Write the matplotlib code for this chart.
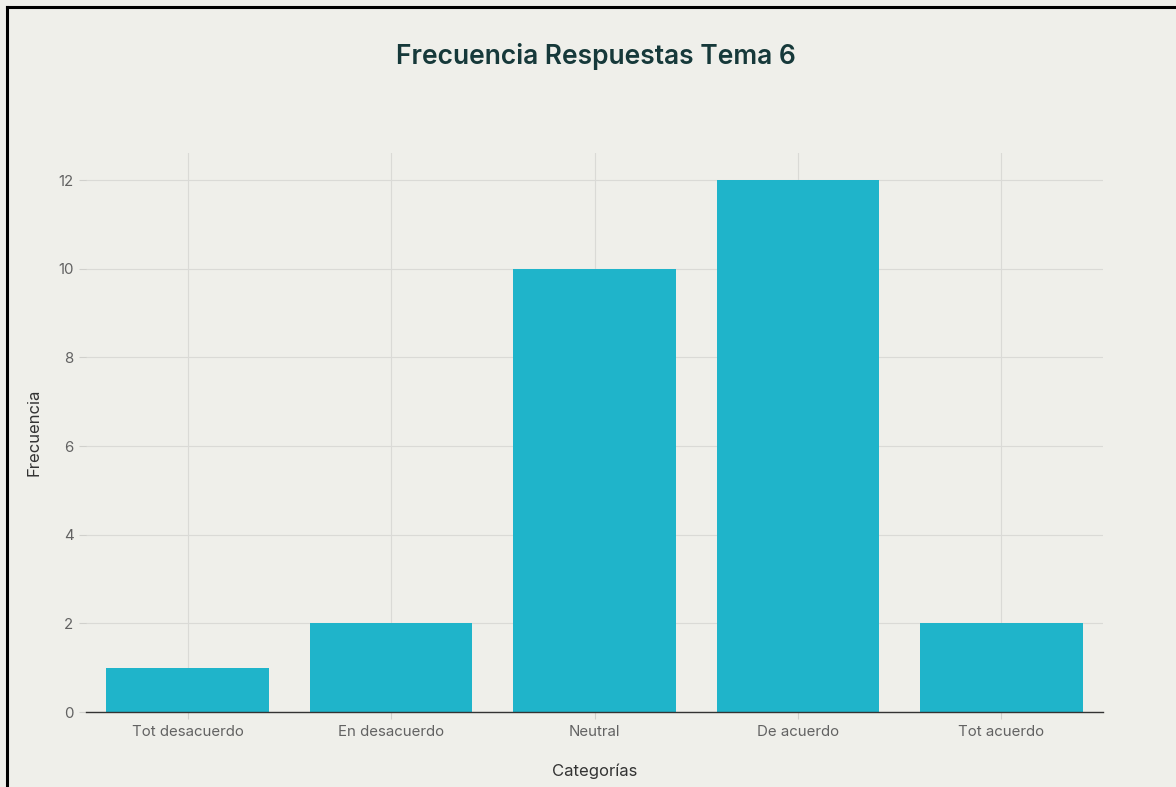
import matplotlib
matplotlib.use("Agg")
import matplotlib.pyplot as plt
from matplotlib.lines import Line2D

categories = ["Tot desacuerdo", "En desacuerdo", "Neutral", "De acuerdo", "Tot acuerdo"]
values = [1, 2, 10, 12, 2]
yticks = [0, 2, 4, 6, 8, 10, 12]

bg = "#EFEFEA"
bar_color = "#1FB4CA"

plt.rcParams['font.family'] = ['Inter', 'DejaVu Sans']

fig = plt.figure(figsize=(11.76, 7.87), dpi=100, facecolor=bg)
ax = fig.add_axes([86/1176, 1-712/787, (1103-86)/1176, (712-153)/787])
ax.set_facecolor(bg)

x = list(range(len(categories)))
ax.bar(x, values, width=0.8, color=bar_color, zorder=3)
ax.set_xlim(-0.5, len(categories) - 0.5)
ax.set_ylim(0, 12.61)
ax.set_yticks(yticks)
ax.set_xticks(x)
ax.set_xticklabels(categories)

ax.grid(True, color="#DADAD6", linewidth=0.8, zorder=0)
for s in ["top", "right", "left"]:
    ax.spines[s].set_visible(False)
ax.spines["bottom"].set_color("#333333")
ax.spines["bottom"].set_linewidth(1.0)
ax.spines["bottom"].set_zorder(4)
ax.tick_params(axis="both", colors="#D0D0CC", length=5, width=0.8, labelsize=10.8,
               labelcolor="#626262", pad=4)

ax.set_ylabel("Frecuencia", fontsize=12, color="#333333", labelpad=12)
ax.set_xlabel("Categorías", fontsize=12, color="#333333", labelpad=18)

fig.text(596/1176, 1-57/787, "Frecuencia Respuestas Tema 6", ha="center", va="center",
         fontsize=19, fontweight="semibold", color="#16393A")

fig.add_artist(Line2D([6.5/1176, 6.5/1176], [0, 1-6.5/787], transform=fig.transFigure,
                      color="black", linewidth=2.2))
fig.add_artist(Line2D([6.5/1176, 1], [1-6.5/787, 1-6.5/787], transform=fig.transFigure,
                      color="black", linewidth=2.2))

fig.savefig("out.png", dpi=100, facecolor=bg)
